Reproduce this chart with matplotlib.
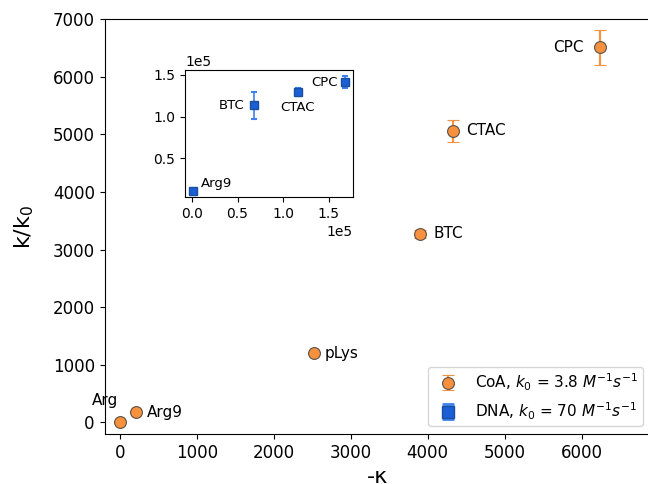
import numpy as np
import matplotlib.pyplot as plt

# main panel: CoA series
coa_names = ["Arg", "Arg9", "pLys", "BTC", "CTAC", "CPC"]
coa_x = [0, 210, 2520, 3900, 4330, 6240]
coa_y = [0, 175, 1200, 3275, 5060, 6510]
coa_err = [0, 0, 0, 70, 190, 300]

# inset: DNA series
dna_names = ["Arg9", "BTC", "CTAC", "CPC"]
dna_x = [700, 67800, 116200, 168300]
dna_y = [10600, 113500, 129500, 141300]
dna_err = [0, 16000, 4500, 7000]

orange = "#f7913d"
blue = "#1a5fd6"
blue_err = "#3b82f0"

fig = plt.figure(figsize=(6.48, 4.84), dpi=100)
ax = fig.add_axes([0.1614, 0.1033, 0.843, 0.857])

ax.errorbar(coa_x, coa_y, yerr=coa_err, fmt="o", color=orange, ms=8.5,
            mec="#5a5045", mew=0.8, ecolor=orange, elinewidth=1.5, capsize=4.5,
            capthick=2, label="CoA, $k_0$ = 3.8 $M^{-1}s^{-1}$")
# dummy handle for the inset series so it shows in the legend
ax.errorbar([np.nan], [np.nan], yerr=[np.nan], fmt="s", color=blue, ms=8.5,
            mec="#1a4fa0", ecolor=blue_err, elinewidth=1.5, capsize=4.5,
            capthick=2, label="DNA, $k_0$ = 70 $M^{-1}s^{-1}$")

offsets = {"Arg": (-30, 380, "right"), "Arg9": (135, 0, "left"),
           "pLys": (140, 0, "left"), "BTC": (180, 0, "left"),
           "CTAC": (170, 0, "left"), "CPC": (-210, 0, "right")}
for n, x, y in zip(coa_names, coa_x, coa_y):
    dx, dy, ha = offsets[n]
    ax.text(x + dx, y + dy, n, fontsize=11, ha=ha, va="center")

ax.set_xlim(-200, 6900)
ax.set_ylim(-200, 7000)
ax.tick_params(labelsize=12)
ax.set_xlabel("-κ", fontsize=16)
ax.set_ylabel("k/k$_0$", fontsize=16, labelpad=12)
ax.legend(loc="lower right", fontsize=11, borderpad=0.3)

# inset
ins = fig.add_axes([185 / 648, 1 - 197 / 484, 168 / 648, 126.5 / 484])
ins.errorbar(dna_x, dna_y, yerr=dna_err, fmt="s", color=blue, ms=5.5,
             mec="#1a4fa0", ecolor=blue_err, elinewidth=1.2, capsize=2.5,
             capthick=1.5)
ins_off = {"Arg9": (9000, 9000, "left"), "BTC": (-10000, 0, "right"),
           "CTAC": (0, -19000, "center"), "CPC": (-8000, 0, "right")}
for n, x, y in zip(dna_names, dna_x, dna_y):
    dx, dy, ha = ins_off[n]
    ins.text(x + dx, y + dy, n, fontsize=9.5, ha=ha, va="center")
ins.set_yticks([50000, 100000, 150000])
ins.set_xticks([0, 50000, 100000, 150000])
ins.tick_params(labelsize=10)
ins.ticklabel_format(style="sci", scilimits=(0, 0))
ins.xaxis.get_offset_text().set_fontsize(10)
ins.yaxis.get_offset_text().set_fontsize(10)

fig.savefig("out.png", dpi=100)
